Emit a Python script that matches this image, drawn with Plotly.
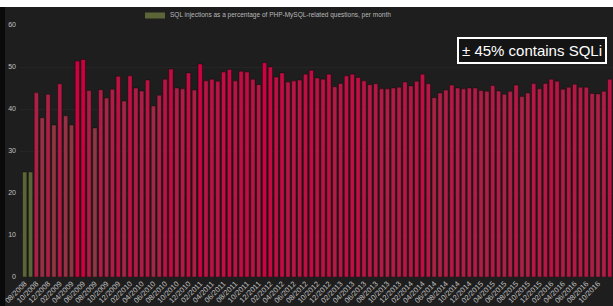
import plotly.graph_objects as go

# SQL injections as % of PHP-MySQL questions, monthly from 08/2008
values = [25, 25, 43.9, 37.9, 43.5, 36.2, 46.0, 38.4, 36.2, 51.4,
          51.8, 44.4, 35.5, 44.6, 42.6, 44.7, 47.8, 41.9, 47.9, 45.0,
          44.3, 46.9, 40.7, 43.3, 47.1, 49.5, 45.0, 44.8, 48.6, 44.5,
          50.7, 46.7, 47.1, 46.6, 48.8, 49.4, 46.7, 49.0, 48.8, 47.1,
          45.8, 51.0, 50.0, 47.6, 48.6, 46.4, 46.7, 46.9, 48.3, 49.2,
          47.4, 47.1, 48.3, 45.3, 46.1, 47.9, 48.3, 47.5, 46.7, 45.8,
          46.0, 44.8, 44.8, 45.0, 45.2, 46.4, 45.5, 46.6, 48.3, 46.0,
          42.7, 43.8, 44.5, 45.7, 45.0, 44.8, 45.0, 45.0, 44.4, 44.2,
          45.6, 44.3, 43.5, 44.2, 45.7, 43.0, 43.8, 46.1, 44.8, 46.1,
          47.1, 46.6, 44.7, 45.2, 45.9, 45.2, 45.2, 43.7, 43.6, 44.2,
          47.1]

start_year, start_month = 2008, 8
months = []
for i in range(len(values)):
    m = (start_month - 1 + i) % 12 + 1
    y = start_year + (start_month - 1 + i) // 12
    months.append(f"{m:02d}/{y}")

x_idx = list(range(len(values)))
tick_vals = x_idx[::2]
tick_text = months[::2]
y_ticks = [0, 10, 20, 30, 40, 50, 60]

legend_text = "SQL injections as a percentage of PHP-MySQL-related questions, per month"
note_text = "± 45% contains SQLi"

BG = "#1e1e1e"
FONT = "Liberation Sans, Arial, Helvetica, sans-serif"

fig = go.Figure()
fig.add_trace(go.Bar(
    x=x_idx, y=values,
    marker=dict(
        color=values,
        colorscale=[[0.0, "#5c6538"], [0.37, "#8a3b42"], [0.72, "#ad1e45"], [1.0, "#cf0040"]],
        cmin=25, cmax=52,
        line=dict(color="rgba(0,0,0,0.35)", width=1),
    ),
    width=0.74,
    showlegend=False,
    hovertext=months,
))

W, H = 613, 306
L, R, T, B = 20, 0, 25, 29
pw, ph = W - L - R, H - T - B

def px_x(p):
    return (p - L) / pw

def px_y(p):
    return 1 - (p - T) / ph

shapes = [
    dict(type="rect", xref="paper", yref="paper", x0=px_x(0), x1=px_x(W), y0=px_y(7), y1=px_y(0),
         fillcolor="white", line=dict(width=0), layer="above"),
    dict(type="rect", xref="paper", yref="paper", x0=px_x(0), x1=px_x(5), y0=px_y(H), y1=px_y(7),
         fillcolor="#0a0a0a", line=dict(width=0), layer="below"),
    dict(type="rect", xref="paper", yref="paper", x0=px_x(145), x1=px_x(165), y0=px_y(18.5), y1=px_y(12.5),
         fillcolor="#5c6538", line=dict(width=0)),
]

annotations = [
    dict(xref="paper", yref="paper", x=px_x(168), y=px_y(15.5), xanchor="left", yanchor="middle",
         text=legend_text, showarrow=False, font=dict(family=FONT, size=6.5, color="#b8b8b8")),
    dict(xref="paper", yref="paper", x=px_x(532), y=px_y(50.5), xanchor="center", yanchor="middle",
         text=note_text, showarrow=False, font=dict(family=FONT, size=15, color="white"),
         bordercolor="white", borderwidth=2, borderpad=3, bgcolor="#141414"),
]

fig.update_layout(
    width=W, height=H,
    margin=dict(l=L, r=R, t=T, b=B, pad=0, autoexpand=False),
    paper_bgcolor=BG, plot_bgcolor=BG,
    font=dict(family=FONT, size=7, color="#b8b8b8"),
    bargap=0.26,
    shapes=shapes,
    annotations=annotations,
    xaxis=dict(
        range=[-0.80, 100.56], automargin=False,
        tickmode="array", tickvals=tick_vals, ticktext=tick_text,
        tickangle=-45, tickfont=dict(size=7.5, color="#c0c0c0"),
        showgrid=False, zeroline=False, showline=False, ticks="",
    ),
    yaxis=dict(
        range=[0, 60], tickmode="array", tickvals=y_ticks, automargin=False,
        tickfont=dict(size=7, color="#c0c0c0"),
        showgrid=True, gridcolor="#252525", gridwidth=1,
        zeroline=False, showline=False, ticks="", ticklabelstandoff=3,
    ),
)

fig.write_html(
    "out.html",
    config={"displayModeBar": False},
    post_script="document.body.style.margin='0';document.body.style.background='#1e1e1e';"
                "document.body.style.overflow='hidden';",
)
